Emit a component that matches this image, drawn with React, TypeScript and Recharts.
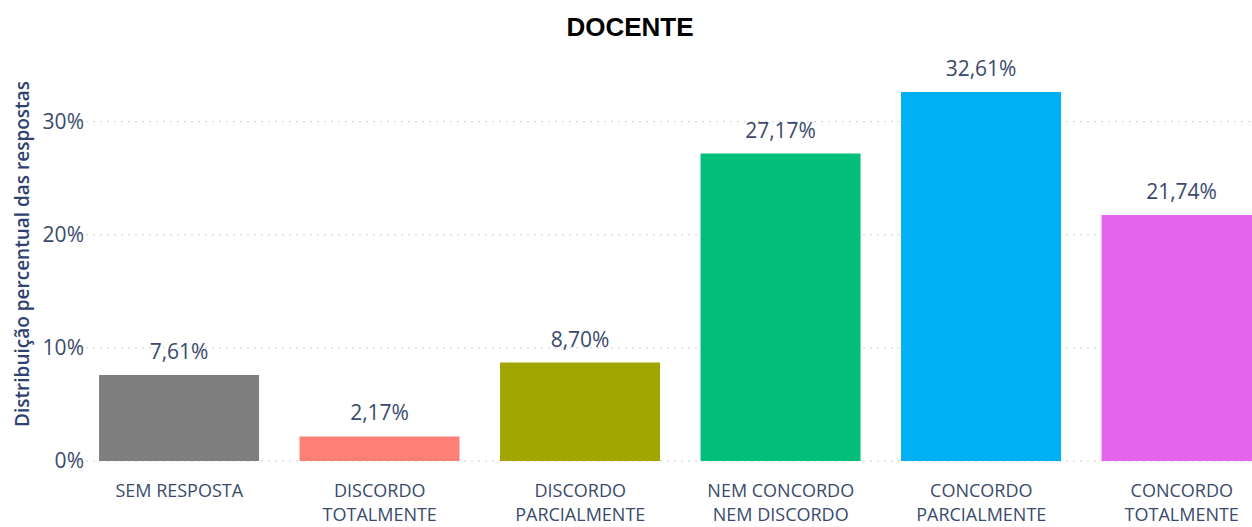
import { BarChart, Bar, XAxis, YAxis, CartesianGrid, Cell, LabelList, Label } from "recharts";

const categories = [
  "SEM RESPOSTA",
  "DISCORDO TOTALMENTE",
  "DISCORDO PARCIALMENTE",
  "NEM CONCORDO NEM DISCORDO",
  "CONCORDO PARCIALMENTE",
  "CONCORDO TOTALMENTE",
];
const percentages = [7.61, 2.17, 8.7, 27.17, 32.61, 21.74];
const yTicks = [0, 10, 20, 30];

const barColors = ["#7f7f7f", "#fd8077", "#a1a500", "#01be7b", "#01b0f3", "#e566ee"];

const data = categories.map((name, i) => ({ name, value: percentages[i] }));

// two-line category labels, split like the original
const labelLines: Record<string, string[]> = {
  "SEM RESPOSTA": ["SEM RESPOSTA"],
  "DISCORDO TOTALMENTE": ["DISCORDO", "TOTALMENTE"],
  "DISCORDO PARCIALMENTE": ["DISCORDO", "PARCIALMENTE"],
  "NEM CONCORDO NEM DISCORDO": ["NEM CONCORDO", "NEM DISCORDO"],
  "CONCORDO PARCIALMENTE": ["CONCORDO", "PARCIALMENTE"],
  "CONCORDO TOTALMENTE": ["CONCORDO", "TOTALMENTE"],
};

const font = "'Open Sans', 'Noto Sans', sans-serif";
const textColor = "#3a4a6b";

const fmt = (v: number) => v.toFixed(2).replace(".", ",") + "%";

function XTick(props: any) {
  const { x, y, payload } = props;
  const lines = labelLines[payload.value] || [payload.value];
  return (
    <g>
      {lines.map((l: string, i: number) => (
        <text
          key={i}
          x={x}
          y={y + 28 + i * 24}
          textAnchor="middle"
          fill={textColor}
          fontSize={18}
          fontFamily={font}
        >
          {l}
        </text>
      ))}
    </g>
  );
}

function YTick(props: any) {
  const { x, y, payload } = props;
  return (
    <text x={x + 5} y={y + 7} textAnchor="end" fill={textColor} fontSize={21} fontFamily={font}>
      {payload.value}%
    </text>
  );
}

export default function App() {
  return (
    <div
      style={{
        position: "absolute",
        left: 0,
        top: 0,
        width: 1252,
        height: 527,
        overflow: "hidden",
        background: "#fff",
      }}
    >
      <div
        style={{
          position: "absolute",
          left: 0,
          top: 12,
          width: 1260,
          textAlign: "center",
          fontFamily: "'Liberation Sans', Arial, sans-serif",
          fontWeight: "bold",
          fontSize: 26,
          color: "#000",
        }}
      >
        DOCENTE
      </div>
      <BarChart
        width={1290}
        height={527}
        data={data}
        margin={{ top: 65, right: 8, bottom: 0, left: 0 }}
        barCategoryGap="10%"
      >
        <CartesianGrid
          vertical={false}
          horizontalValues={yTicks}
          stroke="#cfcfcf"
          strokeDasharray="2 5"
        />
        <XAxis
          dataKey="name"
          axisLine={false}
          tickLine={false}
          height={66}
          interval={0}
          tick={<XTick />}
        />
        <YAxis
          width={79}
          domain={[0, 35]}
          ticks={yTicks}
          axisLine={false}
          tickLine={false}
          tickSize={0}
          tickMargin={0}
          tick={<YTick />}
        >
          <Label
            content={() => (
              <text
                transform="translate(22,254) rotate(-90)"
                textAnchor="middle"
                dominantBaseline="central"
                fill="#2e4170"
                fontSize={19}
                fontWeight={600}
                fontFamily={font}
              >
                Distribuição percentual das respostas
              </text>
            )}
          />
        </YAxis>
        <Bar dataKey="value" isAnimationActive={false}>
          {data.map((d, i) => (
            <Cell key={d.name} fill={barColors[i]} />
          ))}
          <LabelList
            dataKey="value"
            position="top"
            offset={16}
            formatter={(v: any) => fmt(Number(v))}
            style={{ fill: textColor, fontSize: 21, fontFamily: font }}
          />
        </Bar>
      </BarChart>
    </div>
  );
}
